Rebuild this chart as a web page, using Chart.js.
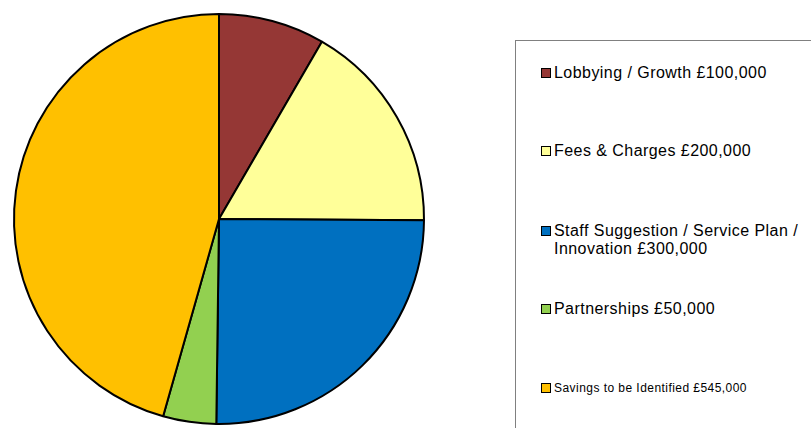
<!DOCTYPE html>
<html>
<head>
<meta charset="utf-8">
<script src="https://cdn.jsdelivr.net/npm/chart.js@4/dist/chart.umd.min.js"></script>
<style>
  html, body { margin: 0; padding: 0; background: #fff; }
  body { width: 811px; height: 428px; position: relative; overflow: hidden; font-family: "Liberation Sans", Arial, sans-serif; }
  #pieWrap { position: absolute; left: 0; top: 0; width: 440px; height: 428px; }
  #legendBox { position: absolute; left: 515px; top: 40px; width: 320px; height: 420px; border: 1px solid #808080; box-sizing: border-box; }
  .item { position: absolute; left: 25px; font-size: 16px; letter-spacing: 0.45px; color: #000; line-height: 18px; white-space: nowrap; }
  .item .sw { position: absolute; left: 0; top: 4px; width: 8px; height: 8px; border: 1.5px solid #000; }
  .item .txt { margin-left: 13px; display: block; }
  .item.small { font-size: 12px; letter-spacing: 0.45px; line-height: 14px; }
  .item.small .sw { top: 2px; }
</style>
</head>
<body>
<div id="pieWrap"><canvas id="pieChart" width="440" height="428"></canvas></div>
<div id="legendBox"></div>

<script>
// ── Data ───────────────────────────────────────────────
var labels = [
  "Lobbying / Growth £100,000",
  "Fees & Charges £200,000",
  "Staff Suggestion / Service Plan / Innovation £300,000",
  "Partnerships £50,000",
  "Savings to be Identified £545,000"
];
var values = [100000, 200000, 300000, 50000, 545000];
var colours = ["#953735", "#FFFF99", "#0070C0", "#92D050", "#FFC000"];

// legend text rows (Staff label wraps onto two lines in the original)
var legendTops = [23, 101, 181, 259, 340];
var legendLines = [
  ["Lobbying / Growth £100,000"],
  ["Fees & Charges £200,000"],
  ["Staff Suggestion / Service Plan /", "Innovation £300,000"],
  ["Partnerships £50,000"],
  ["Savings to be Identified £545,000"]
];

// ── Pie chart ─────────────────────────────────────────
var ctx = document.getElementById("pieChart");
new Chart(ctx, {
  type: "pie",
  data: {
    labels: labels,
    datasets: [{
      data: values,
      backgroundColor: colours,
      borderColor: "#000000",
      borderWidth: 2,
      borderAlign: "center"
    }]
  },
  options: {
    responsive: false,
    animation: false,
    layout: { padding: { left: 13, right: 15, top: 13, bottom: 3 } },
    plugins: {
      legend: { display: false },
      tooltip: { enabled: false }
    }
  }
});

// ── Legend ────────────────────────────────────────────
function esc(str) {
  return String(str)
    .replace(/&/g, "&amp;")
    .replace(/</g, "&lt;")
    .replace(/>/g, "&gt;");
}

var box = document.getElementById("legendBox");
labels.forEach(function(label, i) {
  var item = document.createElement("div");
  item.className = "item" + (i === 4 ? " small" : "");
  item.style.top = legendTops[i] + "px";
  item.innerHTML =
    "<span class='sw' style='background:" + colours[i] + "'></span>" +
    "<span class='txt'>" + legendLines[i].map(esc).join("<br>") + "</span>";
  box.appendChild(item);
});
</script>
</body>
</html>
